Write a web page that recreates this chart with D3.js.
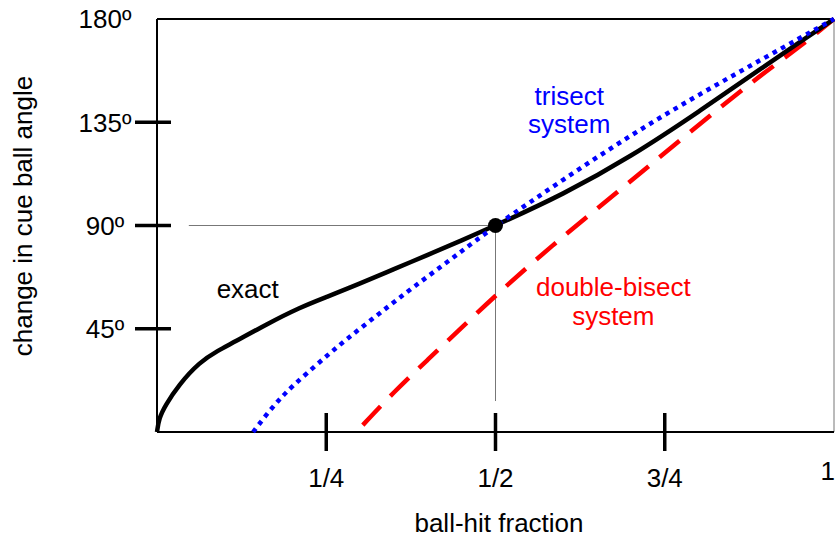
<!DOCTYPE html>
<html>
<head>
<meta charset="utf-8">
<style>
body { margin: 0; background: #fff; }
svg { display: block; font-family: "Liberation Sans", Arial, sans-serif; }
.lbl { font-size: 26px; }
</style>
</head>
<body>
<script src="https://cdn.jsdelivr.net/npm/d3@7/dist/d3.min.js"></script>
<script>
// ball-hit fraction -> change in cue ball angle (degrees)
var exact = [[0, 0], [0.003, 6], [0.012, 11.5], [0.032, 20.5], [0.063, 30.5], [0.09, 35.5],
  [0.113, 39], [0.162, 47], [0.211, 54.3], [0.25, 58.8], [0.3, 64.7], [0.35, 71], [0.4, 77.2],
  [0.45, 83.5], [0.5, 90], [0.6, 103.5], [0.7, 120], [0.8, 139.5], [0.9, 160], [0.95, 170], [1, 180]];
var trisect = [[0.142, 0], [0.16, 7], [0.18, 14], [0.2, 20], [0.24, 30.5], [0.28, 40.5],
  [0.33, 52], [0.38, 63.5], [0.44, 76.5], [0.5, 90], [0.6, 110], [0.7, 129.5], [0.8, 147],
  [0.9, 163.5], [1, 180]];
var doubleBisect = [[0.304, 3], [0.35, 17.5], [0.4, 31.5], [0.45, 45.5], [0.5, 59.5],
  [0.58, 80.5], [0.68, 104.5], [0.78, 129], [0.88, 153], [0.95, 168], [1, 180]];

var xTickValues = [0.25, 0.5, 0.75];
var xLabelValues = [0.25, 0.5, 0.75, 1];
var xLabelText = ["1/4", "1/2", "3/4", "1"];
var yTickValues = [45, 90, 135];
var yLabelValues = [45, 90, 135, 180];

var halfBall = [0.5, 90];
var guideFromX = 0.047, guideToY = 13.5;

var margin = {top: 19, right: 1, bottom: 105, left: 157},
    width = 835 - margin.left - margin.right,
    height = 537 - margin.top - margin.bottom;

var x = d3.scaleLinear().domain([0, 1]).range([0, width]);
var y = d3.scaleLinear().domain([0, 180]).range([height, 0]);

var svg = d3.select("body").append("svg")
    .attr("width", 835)
    .attr("height", 537);

var g = svg.append("g")
    .attr("transform", "translate(" + margin.left + "," + margin.top + ")");

// frame
g.append("line").attr("x1", width).attr("x2", width).attr("y1", 0).attr("y2", height)
    .style("stroke", "#777").style("stroke-width", 1);
g.append("line").attr("x1", 0).attr("x2", width).attr("y1", 0).attr("y2", 0)
    .style("stroke", "#000").style("stroke-width", 2);
g.append("line").attr("x1", 0).attr("x2", 0).attr("y1", 0).attr("y2", height)
    .style("stroke", "#000").style("stroke-width", 2);
g.append("line").attr("x1", 0).attr("x2", width).attr("y1", height).attr("y2", height)
    .style("stroke", "#000").style("stroke-width", 2);

// y ticks cross the axis
g.selectAll(".ytick")
    .data(yTickValues)
  .enter().append("line")
    .attr("class", "ytick")
    .attr("x1", -22).attr("x2", 14)
    .attr("y1", function(d) { return y(d); })
    .attr("y2", function(d) { return y(d); })
    .style("stroke", "#000").style("stroke-width", 3.5);

g.selectAll(".ylab")
    .data(yLabelValues)
  .enter().append("text")
    .attr("class", "lbl ylab")
    .attr("x", -52)
    .attr("y", function(d) { return y(d); })
    .attr("dy", "0.36em")
    .style("text-anchor", "middle")
    .text(function(d) { return d + "\u00ba"; });

g.selectAll(".xtick")
    .data(xTickValues)
  .enter().append("line")
    .attr("class", "xtick")
    .attr("x1", function(d) { return x(d); })
    .attr("x2", function(d) { return x(d); })
    .attr("y1", height - 19).attr("y2", height + 19)
    .style("stroke", "#000").style("stroke-width", 3.5);

// the last label sits against the right edge, a bit higher
g.selectAll(".xlab")
    .data(xLabelValues)
  .enter().append("text")
    .attr("class", "lbl xlab")
    .attr("x", function(d) { return d === 1 ? x(d) + 1 : x(d); })
    .attr("y", function(d) { return d === 1 ? height + 48 : height + 55; })
    .style("text-anchor", function(d) { return d === 1 ? "end" : "middle"; })
    .text(function(d, i) { return xLabelText[i]; });

// half-ball guide lines
g.append("line")
    .attr("x1", x(guideFromX)).attr("x2", x(halfBall[0]))
    .attr("y1", y(halfBall[1])).attr("y2", y(halfBall[1]))
    .style("stroke", "#777").style("stroke-width", 1);
g.append("line")
    .attr("x1", x(halfBall[0])).attr("x2", x(halfBall[0]))
    .attr("y1", y(halfBall[1])).attr("y2", y(guideToY))
    .style("stroke", "#777").style("stroke-width", 1);

var line = d3.line()
    .x(function(d) { return x(d[0]); })
    .y(function(d) { return y(d[1]); })
    .curve(d3.curveBasis);

g.append("path")
    .datum(doubleBisect)
    .attr("d", line)
    .style("fill", "none")
    .style("stroke", "#ff0000")
    .style("stroke-width", 4.5)
    .style("stroke-dasharray", "26,14");

g.append("path")
    .datum(exact)
    .attr("d", line)
    .style("fill", "none")
    .style("stroke", "#000")
    .style("stroke-width", 4.5);

g.append("path")
    .datum(trisect)
    .attr("d", line)
    .style("fill", "none")
    .style("stroke", "#0000ff")
    .style("stroke-width", 4.5)
    .style("stroke-dasharray", "4.5,5");

g.append("circle")
    .attr("cx", x(halfBall[0]))
    .attr("cy", y(halfBall[1]))
    .attr("r", 7.5)
    .style("fill", "#000");

// curve labels
g.append("text").attr("class", "lbl")
    .attr("x", x(0.134)).attr("y", y(58.4))
    .style("text-anchor", "middle")
    .text("exact");

var tri = g.append("text").attr("class", "lbl")
    .style("text-anchor", "middle")
    .style("fill", "#0000ff");
tri.append("tspan").attr("x", x(0.609)).attr("y", y(142.5)).text("trisect");
tri.append("tspan").attr("x", x(0.609)).attr("y", y(130.3)).text("system");

var dbl = g.append("text").attr("class", "lbl")
    .style("text-anchor", "middle")
    .style("fill", "#ff0000");
dbl.append("tspan").attr("x", x(0.674)).attr("y", y(59.2)).text("double-bisect");
dbl.append("tspan").attr("x", x(0.674)).attr("y", y(46.7)).text("system");

// axis titles
svg.append("text").attr("class", "lbl")
    .attr("x", 499).attr("y", 532)
    .style("text-anchor", "middle")
    .text("ball-hit fraction");

svg.append("text").attr("class", "lbl")
    .attr("transform", "translate(32,216) rotate(-90)")
    .style("text-anchor", "middle")
    .text("change in cue ball angle");
</script>
</body>
</html>
